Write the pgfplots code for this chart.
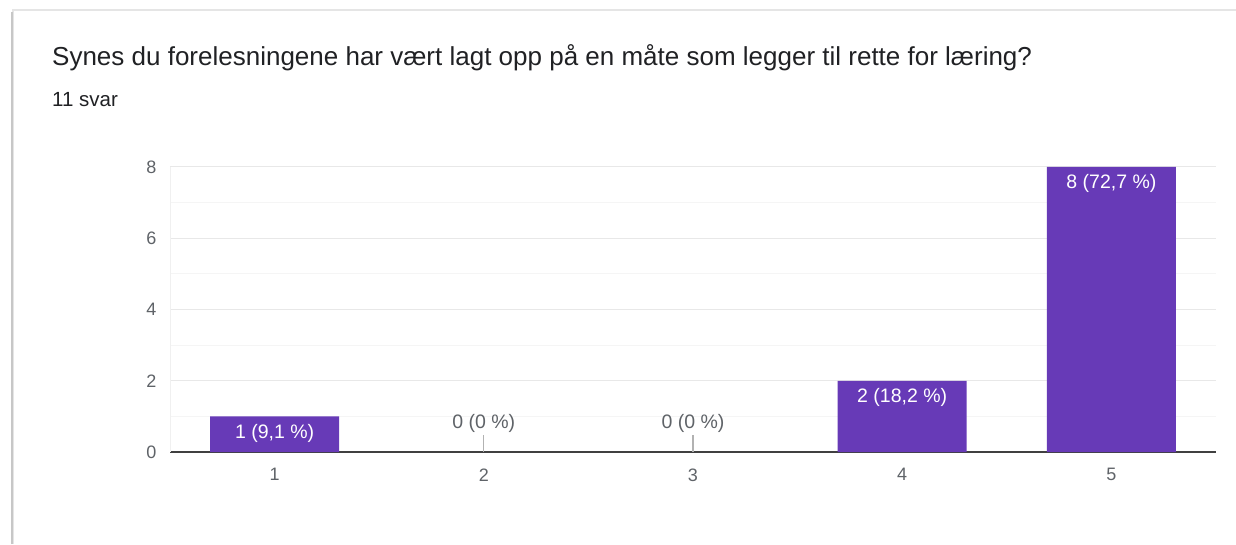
\documentclass[border=0pt]{standalone}
\usepackage{fontspec}
\setmainfont{Liberation Sans}
\usepackage{pgfplots}
\pgfplotsset{compat=1.18}
\definecolor{barpurple}{HTML}{673AB7}
\definecolor{titlegray}{HTML}{202124}
\definecolor{tickgray}{HTML}{5F6368}
\begin{document}
\begin{tikzpicture}[x=1pt,y=1pt]
\useasboundingbox (0,0) rectangle (1236,544);
\fill[white] (0,0) rectangle (1236,544);
\draw[black!10, line width=1.5pt] (13,0) -- (13,534) -- (1236,534);
\draw[black!22, line width=2pt] (11.5,0) -- (11.5,532);
\node[anchor=base west, inner sep=0pt, font=\fontsize{26}{30}\selectfont, text=titlegray] at (52,478) {Synes du forelesningene har vært lagt opp på en måte som legger til rette for læring?};
\node[anchor=base west, inner sep=0pt, font=\fontsize{20.5}{24}\selectfont, text=titlegray] at (52,437) {11 svar};
\begin{axis}[
  at={(170pt,92pt)}, anchor=south west,
  scale only axis, width=1046pt, height=285pt,
  xmin=0.5, xmax=5.5, ymin=0, ymax=8,
  axis x line*=bottom, axis y line*=left,
  x axis line style={draw=black!75, line width=1.4pt, -},
  y axis line style={draw=black!6, -},
  xtick={1,2,3,4,5}, ytick={0,2,4,6,8}, minor ytick={1,3,5,7},
  ymajorgrids, yminorgrids,
  major grid style={draw=black!9, line width=1pt},
  minor grid style={draw=black!4, line width=1pt},
  major tick length=0pt, minor tick length=0pt,
  /pgf/number format/assume math mode=true,
  tick label style={font=\fontsize{18}{21}\selectfont, text=tickgray},
  yticklabel style={xshift=-10pt},
  xticklabel style={yshift=-13pt},
  clip=false,
]
\addplot[ybar, bar width=129pt, bar shift=0pt, fill=barpurple, draw=none,
  nodes near coords, point meta=explicit symbolic,
  nodes near coords align={below},
  every node near coord/.append style={text=white, font=\fontsize{19.5}{23}\selectfont, yshift=-4pt}]
  coordinates {(1,1) [1 (9,1 \%)] (4,2) [2 (18,2 \%)] (5,8) [8 (72,7 \%)]};
\addplot[draw=none, mark=none,
  nodes near coords={\pgfplotspointmeta\\[0pt]{\color{black!30}\rule{1.2pt}{17pt}}},
  point meta=explicit symbolic,
  every node near coord/.append style={anchor=south, align=center, inner sep=0pt, text=tickgray, font=\fontsize{19.5}{23}\selectfont}]
  coordinates {(2,0) [0 (0 \%)] (3,0) [0 (0 \%)]};
\end{axis}
\end{tikzpicture}
\end{document}
